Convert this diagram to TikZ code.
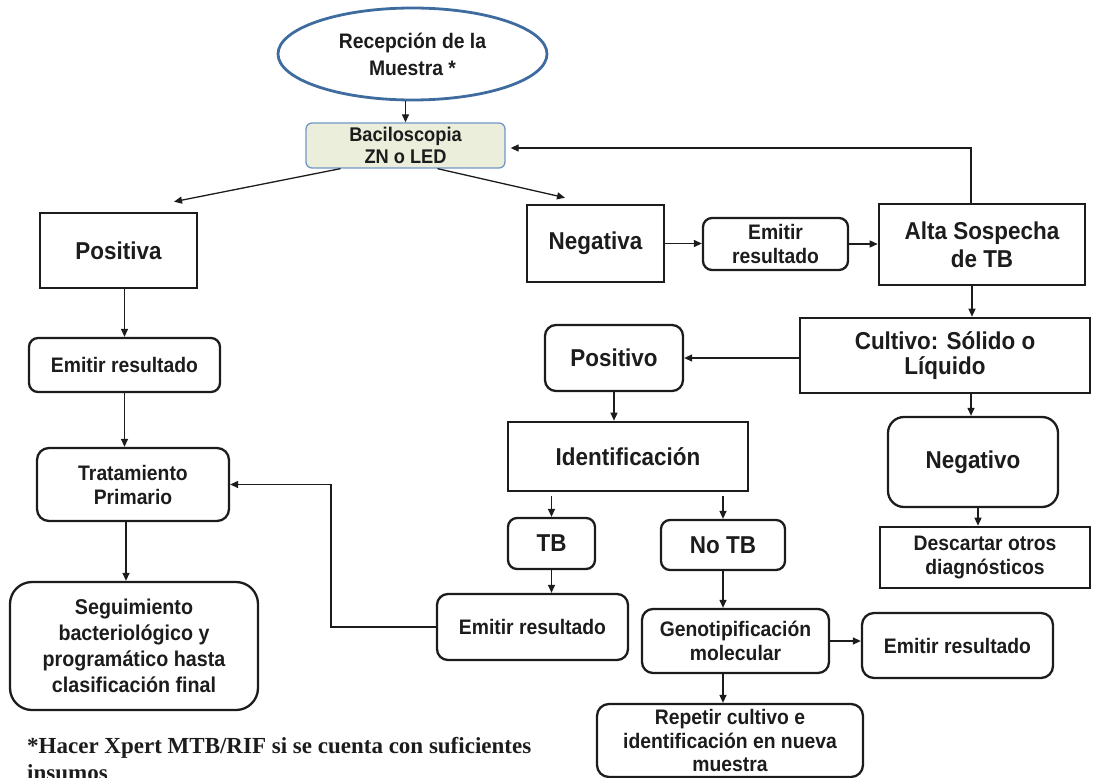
\documentclass[tikz,border=0pt]{standalone}
\usepackage{fontspec}
\setmainfont{Liberation Sans}[FakeStretch=0.92]
\newfontfamily\notefont{Liberation Serif}
\usetikzlibrary{arrows.meta,shapes.geometric}

\definecolor{ink}{RGB}{28,28,28}
\definecolor{ovalblue}{RGB}{62,108,158}
\definecolor{smearfill}{RGB}{234,238,219}
\definecolor{smearline}{RGB}{112,152,200}

\tikzset{
  base/.style={draw=ink, text=ink, align=center, inner sep=0pt, font=\bfseries},
  sqbox/.style={base, rectangle, line width=2.6pt},
  rdbox/.style={base, rectangle, rounded corners=9pt, line width=2.3pt},
  big/.style={font=\bfseries\fontsize{24.4}{28}\selectfont},
  small/.style={font=\bfseries\fontsize{21}{24.5}\selectfont},
  arr/.style={draw=ink, line width=1.3pt, -{Triangle[length=8pt,width=7pt]}},
  link/.style={draw=ink, line width=1.3pt}
}

\begin{document}
\begin{tikzpicture}[x=1pt,y=-1pt]
\useasboundingbox (0,0) rectangle (1094,778);
\clip (0,0) rectangle (1094,778);

% top: sample reception and smear
\node[ellipse, draw=ovalblue, line width=2.8pt, text=ink, align=center, inner sep=0pt,
      minimum width=269pt, minimum height=92pt,
      font=\bfseries\fontsize{21}{27}\selectfont] (rec) at (412.5,54) {Recepción de la\\Muestra *};
\node[base, rounded corners=6pt, fill=smearfill, draw=smearline, line width=1.3pt,
      minimum width=199pt, minimum height=45pt,
      font=\bfseries\fontsize{19.8}{21.7}\selectfont] (bac) at (405.5,145.5) {Baciloscopia\\ZN o LED};

% left branch
\node[sqbox, big, minimum width=157pt, minimum height=75pt] (pos) at (118.5,250.5) {Positiva};
\node[rdbox, small, minimum width=191pt, minimum height=54pt] (em2) at (124.5,365) {Emitir resultado};
\node[rdbox, rounded corners=12pt, minimum width=192pt, minimum height=73pt,
      font=\bfseries\fontsize{21}{24}\selectfont] (trat) at (133,484.5) {Tratamiento\\Primario};
\node[rdbox, rounded corners=22pt, minimum width=248pt, minimum height=128pt,
      font=\bfseries\fontsize{21.4}{26}\selectfont] (seg) at (134,646)
      {Seguimiento\\bacteriológico y\\programático hasta\\clasificación final};

% negative smear branch
\node[sqbox, big, minimum width=137pt, minimum height=77pt] (neg) at (595.5,243.5) {Negativa};
\node[rdbox, small, minimum width=145pt, minimum height=52pt] (em1) at (775.5,244) {Emitir\\resultado};
\node[sqbox, big, minimum width=206pt, minimum height=81pt] (alta) at (982,244.5) {Alta Sospecha\\de TB};
\node[sqbox, big, minimum width=290pt, minimum height=75pt,
      font=\bfseries\fontsize{24.4}{25}\selectfont] (cult) at (945,355.5) {Cultivo: Sólido o\\Líquido};

% culture results
\node[rdbox, big, rounded corners=11pt, minimum width=138pt, minimum height=66pt] (posv) at (614,358) {Positivo};
\node[sqbox, big, minimum width=240pt, minimum height=69pt] (ident) at (628,456.5) {Identificación};
\node[rdbox, big, minimum width=87pt, minimum height=51pt] (tb) at (551.5,543.5) {TB};
\node[rdbox, big, minimum width=124pt, minimum height=50pt] (notb) at (723,545) {No TB};
\node[rdbox, big, rounded corners=16pt, minimum width=170pt, minimum height=90pt] (negv) at (973,462) {Negativo};
\node[sqbox, small, minimum width=210pt, minimum height=61pt] (desc) at (985,557.5) {Descartar otros\\diagnósticos};

% identification outcomes
\node[rdbox, small, rounded corners=11pt, minimum width=191pt, minimum height=66pt] (em3) at (532.5,627) {Emitir resultado};
\node[rdbox, small, rounded corners=11pt, minimum width=187pt, minimum height=64pt] (geno) at (735.5,641) {Genotipificación\\molecular};
\node[rdbox, small, rounded corners=12pt, minimum width=191pt, minimum height=65pt] (em4) at (957.5,645.5) {Emitir resultado};
\node[rdbox, small, rounded corners=12pt, minimum width=266pt, minimum height=73pt,
      font=\bfseries\fontsize{21}{23.5}\selectfont] (rep) at (730,740.5) {Repetir cultivo e\\identificación en nueva\\muestra};

% footnote (second line runs off the lower edge)
\node[anchor=base west, inner sep=0pt, text=ink, align=left,
      font=\notefont\bfseries\fontsize{23}{27}\selectfont] (note) at (27,780)
      {*Hacer Xpert MTB/RIF si se cuenta con suficientes\\insumos};

% connectors
\draw[arr] (bac.north |- rec.south) -- (bac.north);
\draw[arr] ([xshift=-65pt]bac.south) -- ([xshift=55.5pt,yshift=10pt]pos.north);
\draw[arr] ([xshift=32pt]bac.south) -- ([xshift=-30.5pt,yshift=6pt]neg.north);
\draw[arr] (neg.east) -- (neg.east -| em1.west);
\draw[arr] (em1.east) -- (em1.east -| alta.west);
\draw[arr] ([xshift=-11pt]alta.north) |- ([xshift=5pt,yshift=-2.5pt]bac.east);
\draw[arr] ([xshift=-10pt]alta.south) -- ([xshift=-10pt]alta.south |- cult.north);
\draw[arr] (posv.east -| cult.west) -- (posv.east);
\draw[arr] (posv.south) -- (posv.south |- ident.north);
\draw[arr] ([yshift=-4pt]tb.north |- ident.south) -- (tb.north);
\draw[arr] ([yshift=-4pt]notb.north |- ident.south) -- (notb.north);
\draw[arr] ([xshift=-2pt]negv.north |- cult.south) -- ([xshift=-2pt]negv.north);
\draw[arr] ([xshift=5pt]negv.south) -- ([xshift=5pt]negv.south |- desc.north);
\draw[arr] (em2.north |- pos.south) -- (em2.north);
\draw[arr] (em2.south) -- (em2.south |- trat.north);
\draw[arr] ([xshift=-7pt]trat.south) -- ([xshift=-7pt]trat.south |- seg.north);
\draw[arr] (tb.south) -- (tb.south |- em3.north);
\draw[arr] (em3.west) -- ++(-105,0) |- (trat.east);
\draw[arr] (notb.south) -- (notb.south |- geno.north);
\draw[arr] (geno.east) -- (geno.east -| em4.west);
\draw[arr] (notb.south |- geno.south) -- (notb.south |- rep.north);
\end{tikzpicture}
\end{document}
